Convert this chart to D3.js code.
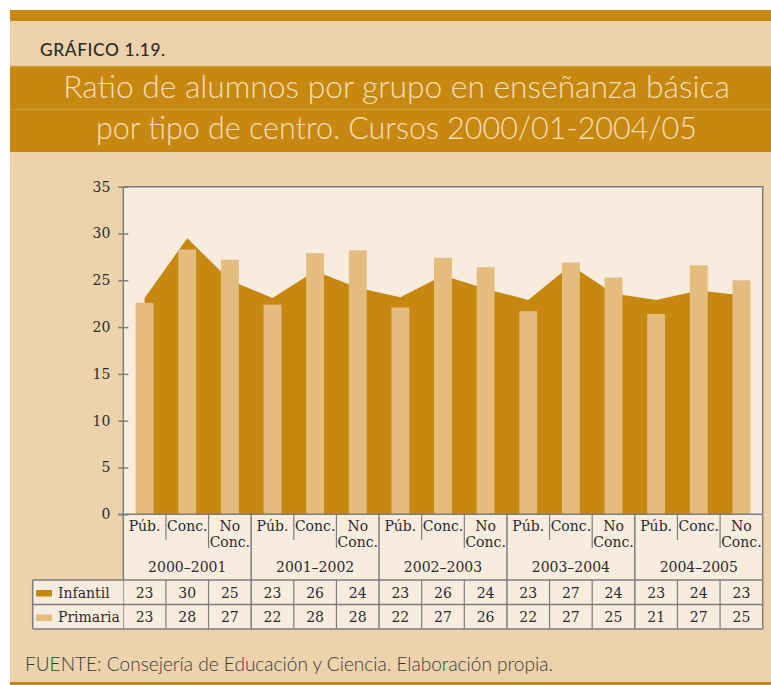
<!DOCTYPE html>
<html>
<head>
  <meta charset="utf-8">
  <title>Ratio de alumnos por grupo</title>
  <script src="https://d3js.org/d3.v7.min.js"></script>
  <style>
    body { margin: 0; background: #fff; }
    .serif { font-family: "DejaVu Serif", serif; fill: #2b2b2b; }
    .sans { font-family: Lato, "Open Sans", sans-serif; }
  </style>
</head>
<body>
<svg id="chart"></svg>
<script>
// data
const years = ["2000–2001", "2001–2002", "2002–2003", "2003–2004", "2004–2005"];
const centros = ["Púb.", "Conc.", "No Conc."];
const infantil = [23.1, 29.5, 25.0, 23.1, 26.0, 24.2, 23.2, 25.5, 24.1, 22.9, 26.6, 23.6, 22.9, 23.9, 23.4];
const primaria = [22.6, 28.3, 27.2, 22.4, 27.9, 28.2, 22.1, 27.4, 26.4, 21.7, 26.9, 25.3, 21.4, 26.6, 25.0];
const infantilLabels = [23, 30, 25, 23, 26, 24, 23, 26, 24, 23, 27, 24, 23, 24, 23];
const primariaLabels = [23, 28, 27, 22, 28, 28, 22, 27, 26, 22, 27, 25, 21, 27, 25];
const yTicks = [0, 5, 10, 15, 20, 25, 30, 35];

const colInfantil = "#c68811", colPrimaria = "#e3bc7e";
const beige = "#ecd3ab", cream = "#f8ecdf", gridCol = "#7d7d7d";
const fs = 14;

const W = 771, H = 685;
const svg = d3.select("#chart").attr("width", W).attr("height", H);

// fit a text element to a given width by scaling its font size
function fit(t, size, w) {
  t.attr("font-size", size);
  const len = t.node().getComputedTextLength();
  t.attr("font-size", size * w / len);
}

// frame
svg.append("rect").attr("x", 10).attr("y", 10).attr("width", W - 10).attr("height", H - 10).attr("fill", beige);
svg.append("rect").attr("x", 10).attr("y", 10).attr("width", W - 10).attr("height", 11).attr("fill", colInfantil);
svg.append("rect").attr("x", 10).attr("y", 66).attr("width", W - 10).attr("height", 86).attr("fill", colInfantil);
svg.append("line").attr("x1", 10).attr("x2", W).attr("y1", 66).attr("y2", 66).attr("stroke", "#e2b463").attr("stroke-width", 1);
svg.append("line").attr("x1", 10).attr("x2", W).attr("y1", 109.5).attr("y2", 109.5).attr("stroke", "#d59e36").attr("stroke-width", 1);
svg.append("rect").attr("x", 10).attr("y", 682).attr("width", W - 10).attr("height", 3).attr("fill", colInfantil);

// header texts
const gr = svg.append("text").attr("class", "sans").attr("x", 40).attr("y", 56)
  .attr("font-weight", 500).attr("letter-spacing", 0.6).attr("fill", "#2a2a2a")
  .text("GRÁFICO 1.19.");
fit(gr, 17, 126);

const titleLines = [
  {t: "Ratio de alumnos por grupo en enseñanza básica", y: 98, w: 667},
  {t: "por tipo de centro. Cursos 2000/01-2004/05", y: 139, w: 601}
];
titleLines.forEach(l => {
  const t = svg.append("text").attr("class", "sans").attr("x", 396.5).attr("y", l.y)
    .attr("text-anchor", "middle").attr("font-weight", 300).attr("fill", "#f6dfb8")
    .text(l.t);
  fit(t, 30, l.w);
});

const src = svg.append("text").attr("class", "sans").attr("x", 25).attr("y", 671)
  .attr("font-weight", 300).attr("fill", "#3a3a3a")
  .text("FUENTE: Consejería de Educación y Ciencia. Elaboración propia.");
fit(src, 17, 528);

// scales
const keys = [];
years.forEach(yr => centros.forEach(c => keys.push(yr + "|" + c)));
const pLeft = 123.3, pRight = 762.7, pTop = 186.7, pBottom = 514.3;
const x = d3.scaleBand().domain(keys).range([pLeft, pRight]).padding(0);
const y = d3.scaleLinear().domain([0, 35]).range([pBottom, pTop]);
const bw = x.bandwidth() * 0.42;
const cx = k => x(k) + x.bandwidth() / 2;

// plot area
svg.append("rect").attr("x", pLeft).attr("y", pTop).attr("width", pRight - pLeft).attr("height", pBottom - pTop)
  .attr("fill", cream);
svg.append("rect").attr("x", pLeft).attr("y", pBottom).attr("width", pRight - pLeft).attr("height", 629 - pBottom)
  .attr("fill", cream);

// Infantil area
const area = d3.area()
  .x((d, i) => cx(keys[i]))
  .y0(y(0))
  .y1(d => y(d));
svg.append("path").datum(infantil).attr("d", area).attr("fill", colInfantil);

// Primaria bars
svg.selectAll(".bar").data(primaria).enter().append("rect")
  .attr("x", (d, i) => cx(keys[i]) - bw / 2)
  .attr("y", d => y(d))
  .attr("width", bw)
  .attr("height", d => y(0) - y(d))
  .attr("fill", colPrimaria);

// frame lines top/right
svg.append("path").attr("d", `M${pLeft},${pTop}H${pRight}V${pBottom}`).attr("fill", "none")
  .attr("stroke", gridCol).attr("stroke-width", 1.5);

// y axis
const yAxis = svg.append("g").attr("transform", `translate(${pLeft},0)`)
  .call(d3.axisLeft(y).tickValues(yTicks).tickSize(5).tickPadding(8));
yAxis.select(".domain").remove();
yAxis.selectAll(".tick line").attr("x1", 5).attr("x2", -5).attr("stroke", gridCol).attr("stroke-width", 1.5);
yAxis.selectAll(".tick text").attr("class", "serif").attr("font-size", fs).attr("fill", "#2b2b2b");
svg.append("line").attr("x1", pLeft).attr("x2", pLeft).attr("y1", pTop).attr("y2", 629)
  .attr("stroke", gridCol).attr("stroke-width", 1.5);
svg.append("line").attr("x1", pLeft - 5).attr("x2", pRight).attr("y1", pBottom).attr("y2", pBottom)
  .attr("stroke", gridCol).attr("stroke-width", 1.5);

// category labels
const cat = svg.append("g");
keys.forEach((k, i) => {
  const c = k.split("|")[1];
  const t = cat.append("text").attr("class", "serif").attr("font-size", fs)
    .attr("text-anchor", "middle").attr("x", cx(k)).attr("y", 531);
  c.split(" ").forEach((w, j) => t.append("tspan").attr("x", cx(k)).attr("dy", j ? 15.5 : 0).text(w));
  const ci = i % 3;
  if (ci > 0) {
    cat.append("line").attr("x1", x(k)).attr("x2", x(k)).attr("y1", pBottom).attr("y2", ci === 1 ? 540 : 548)
      .attr("stroke", gridCol).attr("stroke-width", 1.2);
  }
});
years.forEach((yr, g) => {
  const x0 = x(yr + "|" + centros[0]), x1 = x(yr + "|" + centros[2]) + x.bandwidth();
  cat.append("text").attr("class", "serif").attr("font-size", fs).attr("text-anchor", "middle")
    .attr("x", (x0 + x1) / 2).attr("y", 571.5).text(yr);
  cat.append("line").attr("x1", x1).attr("x2", x1).attr("y1", pBottom).attr("y2", 629)
    .attr("stroke", gridCol).attr("stroke-width", 1.5);
});

// data table
const tLeft = 32.7, rowH = 24.5;
const rows = [
  {name: "Infantil", vals: infantilLabels, col: colInfantil, y0: 580},
  {name: "Primaria", vals: primariaLabels, col: colPrimaria, y0: 604.5}
];
const table = svg.append("g");
table.append("rect").attr("x", tLeft).attr("y", 580).attr("width", pLeft - tLeft).attr("height", rowH * 2).attr("fill", cream);
rows.forEach(r => {
  table.append("rect").attr("x", 36).attr("y", r.y0 + 10).attr("width", 16).attr("height", 6.5).attr("fill", r.col);
  table.append("text").attr("class", "serif").attr("font-size", fs).attr("x", 58).attr("y", r.y0 + 17.5).text(r.name);
  r.vals.forEach((v, i) => {
    table.append("text").attr("class", "serif").attr("font-size", fs).attr("text-anchor", "middle")
      .attr("x", cx(keys[i])).attr("y", r.y0 + 17.5).text(v);
  });
  table.append("line").attr("x1", tLeft).attr("x2", pRight).attr("y1", r.y0).attr("y2", r.y0)
    .attr("stroke", gridCol).attr("stroke-width", 1.5);
});
table.append("line").attr("x1", tLeft).attr("x2", pRight).attr("y1", 629).attr("y2", 629)
  .attr("stroke", gridCol).attr("stroke-width", 1.5);
table.append("line").attr("x1", tLeft).attr("x2", tLeft).attr("y1", 580).attr("y2", 629)
  .attr("stroke", gridCol).attr("stroke-width", 1.5);
keys.forEach((k, i) => {
  if (i % 3 === 0) return;
  table.append("line").attr("x1", x(k)).attr("x2", x(k)).attr("y1", 580).attr("y2", 629)
    .attr("stroke", gridCol).attr("stroke-width", 1.2);
});
</script>
</body>
</html>
